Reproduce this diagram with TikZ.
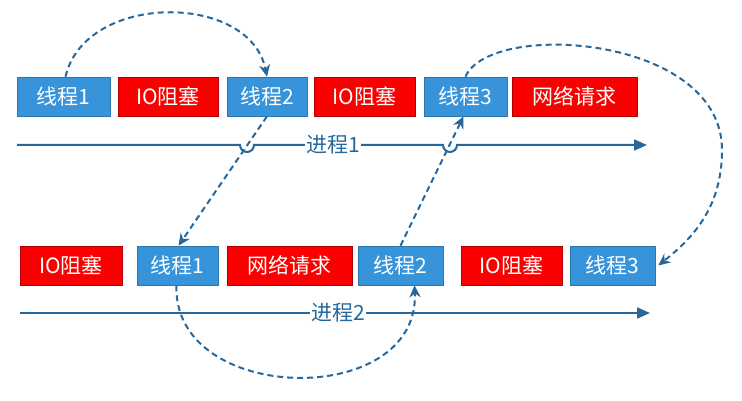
\documentclass[tikz,border=0pt]{standalone}
\usepackage{fontspec}
\setmainfont{Noto Sans CJK SC}
\usetikzlibrary{arrows.meta}
\definecolor{thrblue}{RGB}{55,148,218}
\definecolor{blkred}{RGB}{250,0,0}
\definecolor{lineblue}{RGB}{38,104,156}
\tikzset{
    thread/.style={fill=thrblue, draw=thrblue!80!black, line width=0.6pt, text=white, minimum height=39, inner sep=0pt, font=\fontsize{21}{25}\selectfont},
    block/.style={fill=blkred, draw=blkred!70!black, line width=0.6pt, text=white, minimum height=39, inner sep=0pt, font=\fontsize{21}{25}\selectfont},
    proc/.style={lineblue, line width=2pt},
    hop/.style={lineblue, line width=2pt, dash pattern=on 6pt off 4pt, -{Stealth[length=12pt,width=11pt]}},
    plabel/.style={fill=white, text=lineblue, inner sep=1pt, font=\fontsize{21}{25}\selectfont}
}
\begin{document}
\begin{tikzpicture}[x=1pt, y=-1pt]
    \useasboundingbox (0,0) rectangle (742,401);
    % process 1
        \node[thread, minimum width=93] (ta1) at (63.5,96.5) {线程1};
        \node[block, minimum width=100] (ta2) at (168,96.5) {IO阻塞};
        \node[thread, minimum width=80] (ta3) at (267,96.5) {线程2};
        \node[block, minimum width=101] (ta4) at (364.5,96.5) {IO阻塞};
        \node[thread, minimum width=83] (ta5) at (465.5,96.5) {线程3};
        \node[block, minimum width=125] (ta6) at (574.5,96.5) {网络请求};
    % process 2
        \node[block, minimum width=102] (tb1) at (71,265.5) {IO阻塞};
        \node[thread, minimum width=81] (tb2) at (177.5,265.5) {线程1};
        \node[block, minimum width=125] (tb3) at (289.5,265.5) {网络请求};
        \node[thread, minimum width=85] (tb4) at (400.5,265.5) {线程2};
        \node[block, minimum width=101] (tb5) at (511.5,265.5) {IO阻塞};
        \node[thread, minimum width=85] (tb6) at (612.5,265.5) {线程3};
    % time lines
        \coordinate (pa0) at (17,145);
        \coordinate (pa1) at (647,145);
        \coordinate (pb0) at (20,313);
        \coordinate (pb1) at (650,313);
        \draw[proc, -{Triangle[length=13pt,width=11pt]}]
            (pa0) -- (240,145) arc (180:0:7) -- (443,145) arc (180:0:7) -- (pa1);
        \node[plabel] (pla) at (333,145) {进程1};
        \draw[proc, -{Triangle[length=13pt,width=11pt]}] (pb0) -- (pb1);
        \node[plabel] (plb) at (338,313) {进程2};
    % switches
        \draw[hop] ([xshift=2pt]ta1.north) .. controls (85,-8) and (250,-8) .. (ta3.north);
        \draw[hop] (ta3.south) -- ([xshift=1pt]tb2.north);
        \draw[hop] (tb4.north) -- ([xshift=-2pt]ta5.south);
        \coordinate (far) at (722,150);
        \draw[hop] (ta5.north) .. controls (490,20) and (722,35) .. (far)
            .. controls (722,210) and (690,240) .. ([xshift=3pt]tb6.east);
        \draw[hop] ([xshift=-1pt]tb2.south) .. controls (172,405) and (420,410) .. ([xshift=14pt]tb4.south);
\end{tikzpicture}
\end{document}
